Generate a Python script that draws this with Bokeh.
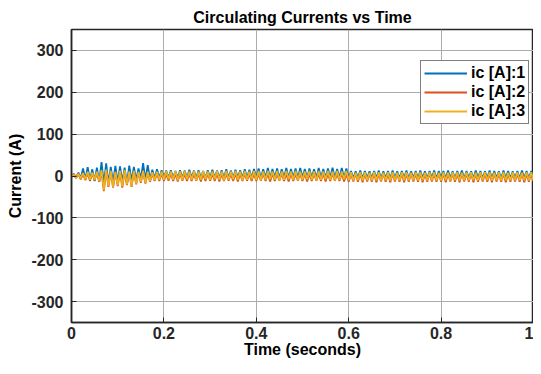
import numpy as np
from bokeh.plotting import figure
from bokeh.models import Range1d, FixedTicker, Legend, LegendItem, ColumnDataSource, Title
from bokeh.embed import file_html
from bokeh.resources import INLINE

# ---------------- data ----------------
title_text = "Circulating Currents vs Time"
x_label = "Time (seconds)"
y_label = "Current (A)"
x_ticks = [0, 0.2, 0.4, 0.6, 0.8, 1.0]
x_tick_labels = ["0", "0.2", "0.4", "0.6", "0.8", "1"]
y_ticks = [-300, -200, -100, 0, 100, 200, 300]
y_tick_labels = ["-300", "-200", "-100", "0", "100", "200", "300"]
series_names = ["ic [A]:1", "ic [A]:2", "ic [A]:3"]
series_colors = ["#0072BD", "#D95319", "#EDB120"]
t_start, t_end = 0.0, 1.0

# samples every 5 ms, 0 .. 1 s
ic1 = [
    0, 5, -4, 8, -6, 18, -8, 21, -10, 16, -12, 20, -14, 33, -20, 30, -18, 22, -15, 24,
    -16, 23, -14, 20, -18, 25, -12, 22, -10, 18, -8, 31, -10, 26, -8, 15, -6, 16, -5, 14,
    -4, 13, -5, 14, -4, 12, -5, 14, -4, 13, -5, 15, -4, 13, -5, 14, -4, 12, -5, 14,
    -4, 15, -5, 13, -4, 14, -5, 16, -4, 13, -5, 15, -4, 14, -5, 16, -4, 15, -5, 17,
    -4, 18, -5, 16, -4, 19, -5, 17, -4, 18, -5, 16, -4, 19, -5, 17, -4, 18, -5, 19,
    -4, 17, -5, 18, -4, 16, -5, 19, -4, 17, -5, 18, -4, 20, -5, 17, -4, 19, -5, 18,
    -5, 12, -6, 11, -5, 13, -6, 12, -5, 11, -6, 12, -5, 13, -6, 11, -5, 12, -6, 13,
    -5, 11, -6, 12, -5, 13, -6, 11, -5, 12, -6, 13, -5, 11, -6, 12, -5, 13, -6, 12,
    -5, 12, -6, 13, -5, 11, -6, 12, -5, 13, -6, 12, -5, 11, -6, 13, -5, 12, -6, 11,
    -5, 13, -6, 12, -5, 11, -6, 13, -5, 12, -6, 11, -5, 12, -6, 13, -5, 12, -6, 12,
    -5,
]
ic2 = [
    0, 4, -5, 6, -8, 5, -10, 8, -12, 6, -10, 7, -14, 10, -36, 12, -26, 10, -28, 8,
    -24, 10, -28, 12, -22, 9, -26, 10, -20, 8, -16, 10, -18, 8, -14, 6, -12, 7, -12, 6,
    -12, 5, -11, 6, -12, 5, -13, 6, -11, 5, -12, 6, -12, 5, -11, 6, -13, 5, -12, 6,
    -11, 5, -12, 6, -13, 5, -12, 6, -11, 5, -12, 6, -13, 5, -12, 6, -11, 5, -12, 6,
    -12, 5, -11, 6, -12, 5, -13, 6, -12, 5, -11, 6, -12, 5, -13, 6, -12, 5, -11, 6,
    -12, 6, -13, 5, -12, 6, -11, 5, -12, 6, -13, 5, -12, 6, -11, 5, -12, 6, -13, 5,
    -14, 5, -13, 6, -14, 5, -15, 6, -13, 5, -14, 6, -15, 5, -13, 6, -14, 5, -15, 6,
    -13, 5, -14, 6, -15, 5, -14, 6, -13, 5, -14, 6, -15, 5, -14, 6, -13, 5, -14, 6,
    -14, 6, -15, 5, -13, 6, -14, 5, -15, 6, -13, 5, -14, 6, -15, 5, -14, 6, -13, 5,
    -14, 5, -15, 6, -13, 5, -14, 6, -15, 5, -14, 6, -13, 5, -14, 6, -15, 5, -14, 6,
    -13,
]
ic3 = [
    0, 3, -4, 5, -6, 7, -8, 10, -9, 8, -9, 10, -12, 14, -34, 15, -24, 12, -26, 10,
    -22, 12, -25, 14, -20, 11, -24, 12, -18, 10, -14, 12, -16, 10, -12, 9, -10, 10, -9, 11,
    -9, 12, -8, 11, -9, 12, -10, 11, -9, 12, -8, 11, -9, 12, -10, 11, -9, 12, -8, 11,
    -9, 11, -8, 12, -9, 11, -10, 12, -9, 11, -8, 12, -9, 11, -10, 12, -9, 11, -8, 12,
    -9, 12, -10, 11, -9, 12, -8, 11, -9, 12, -10, 11, -9, 12, -8, 11, -9, 12, -10, 11,
    -9, 11, -8, 12, -9, 11, -10, 12, -9, 11, -8, 12, -9, 11, -10, 12, -9, 11, -8, 12,
    -10, 9, -11, 8, -10, 9, -11, 9, -10, 8, -11, 9, -10, 9, -11, 8, -10, 9, -11, 9,
    -10, 8, -11, 9, -10, 9, -11, 8, -10, 9, -11, 9, -10, 8, -11, 9, -10, 9, -11, 8,
    -11, 9, -10, 8, -11, 9, -10, 9, -11, 8, -10, 9, -11, 9, -10, 8, -11, 9, -10, 9,
    -10, 9, -11, 8, -10, 9, -11, 9, -10, 8, -11, 9, -10, 9, -11, 8, -10, 9, -11, 9,
    -10,
]
series_values = [ic1, ic2, ic3]

# ---------------- styling ----------------
FONT = "Liberation Sans"
TXT = "#262626"

p = figure(width=533, height=358, output_backend="svg", toolbar_location=None,
           x_range=Range1d(0, 1), y_range=Range1d(-350, 350),
           min_border_left=71, min_border_right=0, min_border_top=29, min_border_bottom=0,
           title=title_text)
p.background_fill_color = "white"
p.border_fill_color = "white"
p.outline_line_color = TXT
p.outline_line_width = 1.5

p.title.align = "center"
p.title.text_font = FONT
p.title.text_font_style = "bold"
p.title.text_font_size = "16px"
p.title.text_color = "#000000"
p.title.standoff = 8

for ax, ticks, labels in ((p.xaxis[0], x_ticks, x_tick_labels),
                          (p.yaxis[0], y_ticks, y_tick_labels)):
    ax.ticker = FixedTicker(ticks=ticks)
    ax.major_label_overrides = {tk: lb for tk, lb in zip(ticks, labels)}
    ax.axis_label_text_font = FONT
    ax.axis_label_text_font_style = "bold"
    ax.axis_label_text_font_size = "16px"
    ax.axis_label_text_color = "#000000"
    ax.major_label_text_font = FONT
    ax.major_label_text_font_style = "bold"
    ax.major_label_text_font_size = "16px"
    ax.major_label_text_color = TXT
    ax.axis_line_color = TXT
    ax.axis_line_width = 1.5
    ax.major_tick_line_color = TXT
    ax.major_tick_in = 5
    ax.major_tick_out = 0
    ax.minor_tick_line_color = None

p.yaxis[0].axis_label = y_label
p.xaxis[0].major_label_standoff = 4
p.yaxis[0].major_label_standoff = 8
p.yaxis[0].axis_label_standoff = 4

# x-axis label as a title placed under the axis
xlab = Title(text=x_label, align="center", vertical_align="top", standoff=-2,
             text_font=FONT, text_font_style="bold", text_font_size="16px",
             text_color="#000000")
p.add_layout(xlab, "below")

p.xgrid.ticker = FixedTicker(ticks=x_ticks)
p.ygrid.ticker = FixedTicker(ticks=y_ticks)
p.xgrid.grid_line_color = "#ababab"
p.ygrid.grid_line_color = "#ababab"
p.xgrid.grid_line_width = 1
p.ygrid.grid_line_width = 1

items = []
for name, vals, col in zip(series_names, series_values, series_colors):
    t = np.linspace(t_start, t_end, len(vals))
    src = ColumnDataSource(dict(t=t, v=np.array(vals, dtype=float)))
    r = p.line("t", "v", source=src, line_color=col, line_width=1.8)
    items.append(LegendItem(label=name, renderers=[r]))

legend = Legend(items=items, location=(349, 198))
legend.label_text_font = FONT
legend.label_text_font_style = "bold"
legend.label_text_font_size = "16px"
legend.label_text_color = "#000000"
legend.border_line_color = "#000000"
legend.border_line_width = 1.5
legend.background_fill_color = "white"
legend.background_fill_alpha = 1
legend.glyph_width = 43
legend.glyph_height = 18
legend.label_height = 18
legend.label_standoff = 4
legend.padding = 3
legend.spacing = 1
legend.margin = 0
p.add_layout(legend)

open("out.html", "w").write(file_html(p, INLINE))
